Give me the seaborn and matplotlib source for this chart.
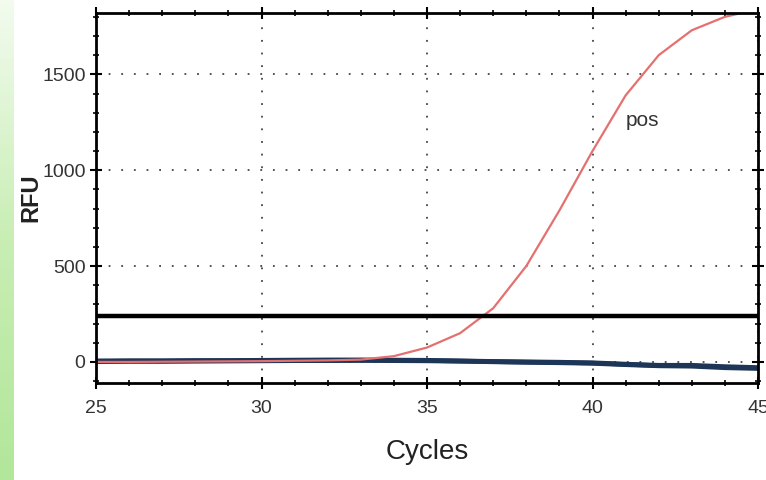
import matplotlib
matplotlib.use("Agg")
import matplotlib.pyplot as plt
import numpy as np
import pandas as pd
import seaborn as sns
from matplotlib.colors import LinearSegmentedColormap
from matplotlib.ticker import MultipleLocator

cycles = [25, 26, 27, 28, 29, 30, 31, 32, 33, 34, 35, 36, 37, 38, 39, 40, 41, 42, 43, 44, 45]
pos_rfu = [0, 0, 1, 2, 3, 4, 6, 8, 12, 30, 75, 150, 280, 500, 790, 1100, 1390, 1600, 1730, 1800, 1840]
neg1_rfu = [5, 6, 6, 7, 7, 8, 9, 10, 10, 9, 8, 5, 2, 0, -2, -5, -12, -18, -18, -25, -30]
neg2_rfu = [2, 3, 3, 4, 5, 6, 7, 7, 8, 7, 6, 4, 1, -2, -4, -7, -14, -20, -22, -30, -34]
threshold = 240

df = pd.DataFrame({
    "Cycles": cycles * 3,
    "RFU": pos_rfu + neg1_rfu + neg2_rfu,
    "Well": ["pos"] * len(cycles) + ["neg1"] * len(cycles) + ["neg2"] * len(cycles),
})

sns.set_theme(style="white")
plt.rcParams["font.family"] = ["Liberation Sans", "DejaVu Sans"]

fig = plt.figure(figsize=(7.66, 4.8), dpi=100)

# green slide background strip on the left
bg = fig.add_axes([0, 0, 13 / 766, 1])
grad = np.linspace(0, 1, 100).reshape(-1, 1)
cmap = LinearSegmentedColormap.from_list("g", ["#b2e69a", "#c8eeb4", "#f2fbee"])
bg.imshow(grad, aspect="auto", cmap=cmap, origin="lower", extent=[0, 1, 0, 1])
bg.axis("off")

ax = fig.add_axes([96 / 766, 97 / 480, 662 / 766, 370 / 480])
sns.lineplot(data=df[df.Well != "pos"], x="Cycles", y="RFU", units="Well", estimator=None,
             color="#1d3557", lw=3.5, ax=ax, legend=False)
sns.lineplot(data=df[df.Well == "pos"], x="Cycles", y="RFU", color="#e4706f", lw=1.6,
             ax=ax, legend=False)
ax.axhline(threshold, color="black", lw=3.2, zorder=5)

ax.set_xlim(25, 45)
ax.set_ylim(-110, 1820)
ax.xaxis.set_major_locator(MultipleLocator(5))
ax.xaxis.set_minor_locator(MultipleLocator(1))
ax.yaxis.set_major_locator(MultipleLocator(500))
ax.yaxis.set_minor_locator(MultipleLocator(100))
ax.grid(True, which="major", color="#444444", linestyle=(0, (1, 6)), lw=1.3)
ax.tick_params(which="both", direction="inout", top=True, right=True, bottom=True, left=True,
               color="black", labelsize=14, labelcolor="#333333")
ax.tick_params(which="major", length=8, width=1.5)
ax.tick_params(axis="x", which="major", pad=8)
ax.tick_params(which="minor", length=5, width=1.2)
for s in ax.spines.values():
    s.set_color("black")
    s.set_linewidth(2)

ax.set_xlabel("Cycles", fontsize=20, color="#222222", labelpad=16)
ax.set_ylabel("RFU", fontsize=17, fontweight="bold", color="#222222", labelpad=0)
ax.text(41.0, 1260, "pos", fontsize=15, color="#333333", ha="left", va="center")

fig.savefig("out.png", dpi=100)
